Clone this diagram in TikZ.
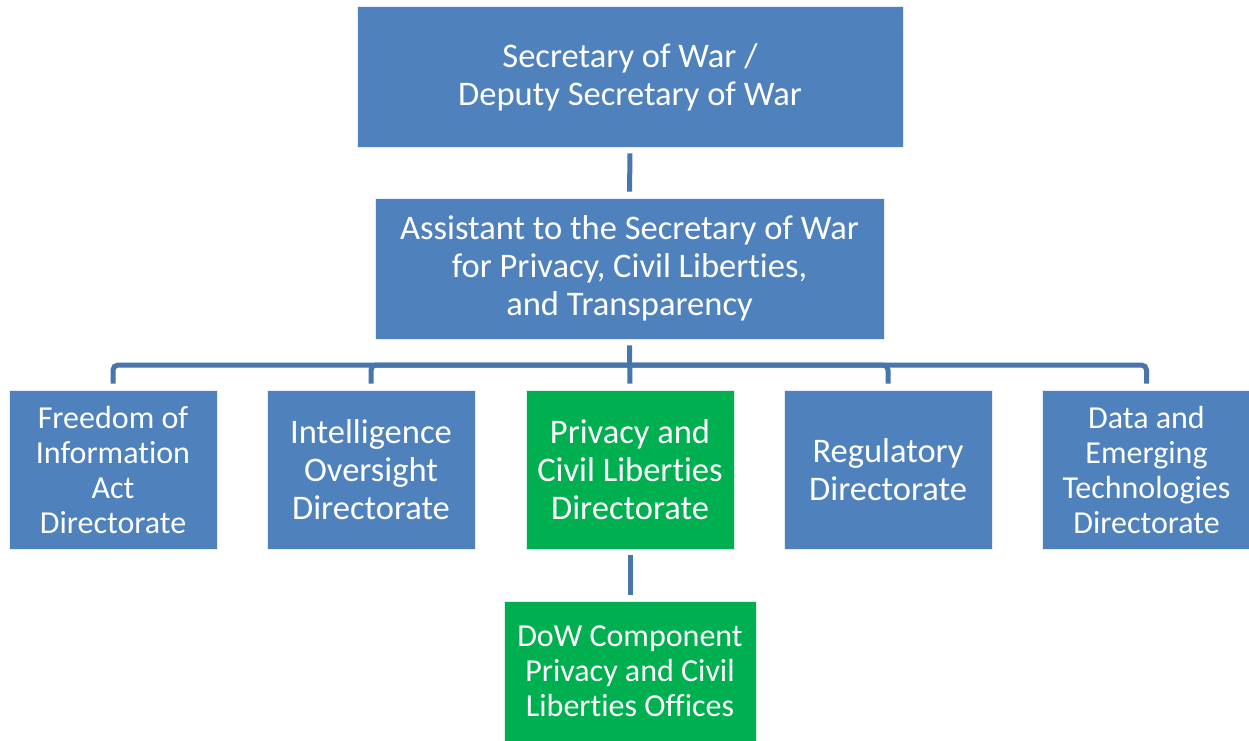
\documentclass[tikz,border=0pt]{standalone}
\usepackage{fontspec}
\setmainfont[Ligatures={NoCommon,NoRare,NoDiscretionary},Contextuals={NoAlternate}]{Carlito}
\definecolor{boxblue}{HTML}{4F81BD}
\definecolor{boxgreen}{HTML}{00B050}
\definecolor{linkblue}{HTML}{4775AC}
\begin{document}
\begin{tikzpicture}[x=1pt,y=-1pt,
  unit/.style={rectangle, fill=boxblue, draw=white!85!boxblue, line width=0.8pt,
    text=white, align=center, inner sep=0pt},
  big/.style={font=\fontsize{34.5}{38}\selectfont},
  small/.style={font=\fontsize{32}{35}\selectfont},
  greenunit/.style={unit, fill=boxgreen, draw=white!85!boxgreen},
  link/.style={draw=linkblue, line width=5pt, shorten <=6pt, shorten >=6pt},
  buslink/.style={draw=linkblue, line width=5pt, shorten >=6pt, rounded corners=5pt}]
\useasboundingbox (0,0) rectangle (1249,740);

\node[unit, big, minimum width=546pt, minimum height=141pt, text depth=4pt] (sec) at (630,76.5)
  {Secretary of War /\\ Deputy Secretary of War};
\node[unit, big, minimum width=509pt, minimum height=141pt] (asst) at (629.5,268.5)
  {Assistant to the Secretary of War\\for Privacy, Civil Liberties,\\and Transparency};

\node[unit, small, minimum width=208pt, minimum height=159pt] (foia) at (113,469.5)
  {Freedom of\\Information\\Act\\Directorate};
\node[unit, big, minimum width=208pt, minimum height=159pt] (io) at (371,469.5)
  {Intelligence\\Oversight\\Directorate};
\node[greenunit, big, minimum width=208pt, minimum height=159pt] (pcl) at (630,469.5)
  {Privacy and\\Civil Liberties\\Directorate};
\node[unit, big, minimum width=208pt, minimum height=159pt] (reg) at (888,469.5)
  {Regulatory\\Directorate};
\node[unit, small, minimum width=208pt, minimum height=159pt] (det) at (1146.5,469.5)
  {Data and\\Emerging\\Technologies\\Directorate};

\node[greenunit, small, minimum width=252pt, minimum height=140pt] (comp) at (630,671)
  {DoW Component\\Privacy and Civil\\Liberties Offices};

% reporting lines
\coordinate (bus) at (630,365);
\draw[link] (sec.south) -- (asst.north);
\draw[link] (asst.south) -- (pcl.north);
\foreach \d in {foia,io,reg,det}
  \draw[buslink] (bus) -| (\d.north);
\draw[link] (pcl.south) -- (comp.north);
\end{tikzpicture}
\end{document}
